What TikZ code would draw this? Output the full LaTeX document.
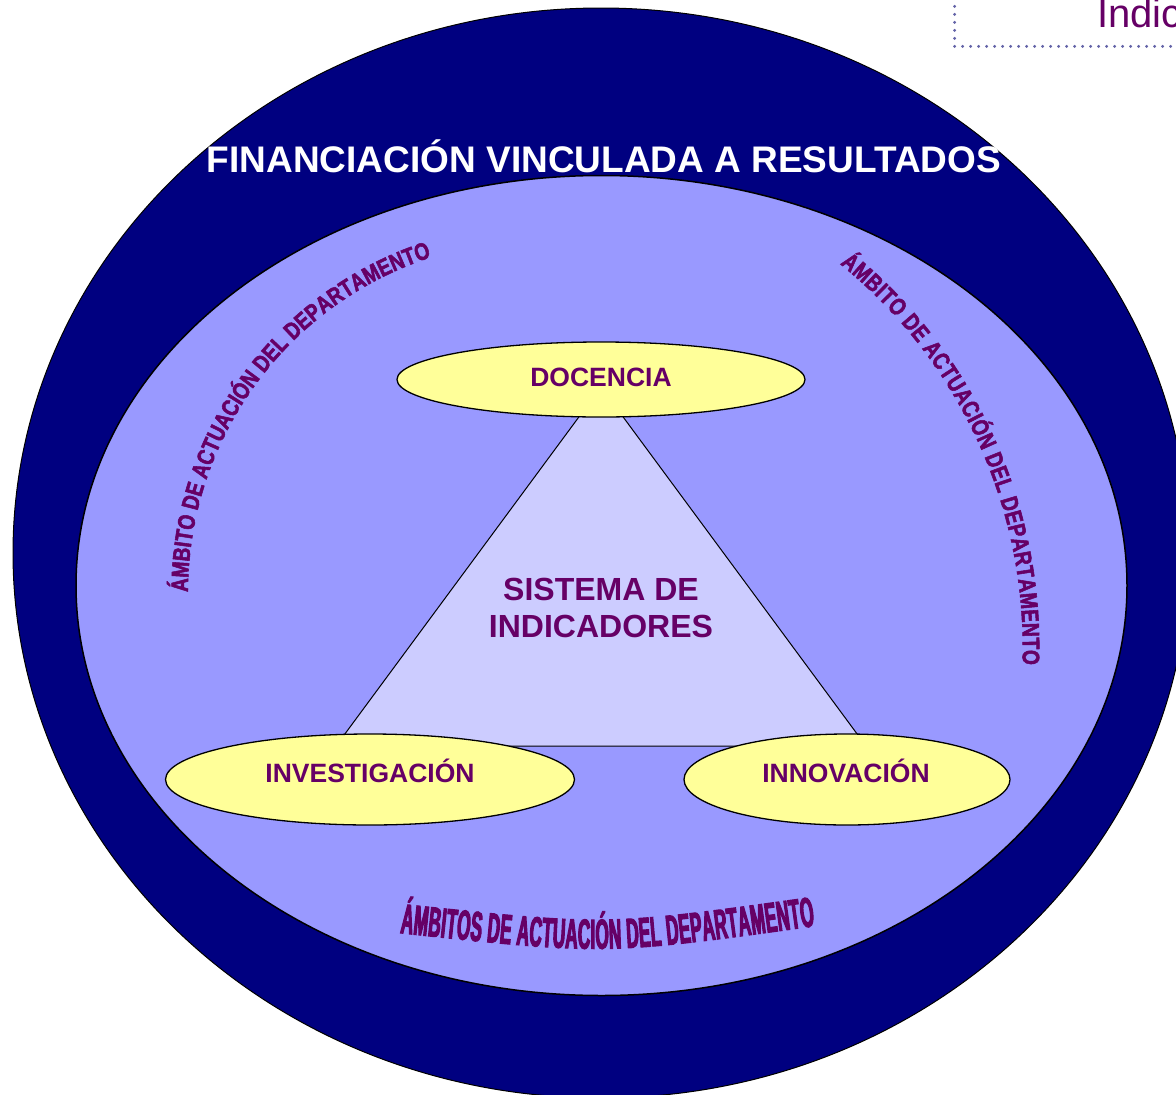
\documentclass[tikz,border=0pt]{standalone}
\usepackage{fontspec}
\setmainfont{Liberation Sans}
\newfontfamily\wafont[FakeStretch=0.8,FakeBold=2.2]{Liberation Sans Bold}
\newfontfamily\wbfont[FakeStretch=0.41,FakeBold=2.5]{Liberation Sans Bold}
\usetikzlibrary{shapes.geometric,decorations.text}
\definecolor{navy}{HTML}{000080}
\definecolor{lav}{HTML}{9999FF}
\definecolor{pale}{HTML}{CCCCFF}
\definecolor{yel}{HTML}{FFFF99}
\definecolor{purp}{HTML}{660066}
\definecolor{dotc}{HTML}{6464A8}
\begin{document}
\begin{tikzpicture}[x=1pt,y=1pt,
  lbl/.style={text=purp, font=\bfseries\fontsize{26.5}{30}\selectfont, inner sep=0pt},
  biglbl/.style={text=purp, font=\bfseries\fontsize{32}{37}\selectfont, inner sep=0pt},
  ovalnode/.style={ellipse, draw=black, line width=1.3pt, fill=yel, inner sep=0pt},
  arctext/.style={decorate, decoration={text along path, text color=purp, text align={fit to path}, text={#1}}},
]
\useasboundingbox (0,0) rectangle (1176,-1095);
\clip (0,0) rectangle (1176,-1095);
% outer and inner ellipses
\node[ellipse, fill=navy, draw=black, line width=1pt, minimum width=1176pt, minimum height=1090pt, inner sep=0pt] (outer) at (601,-553) {};
\node[ellipse, fill=lav, draw=black, line width=1.5pt, minimum width=1051pt, minimum height=820pt, inner sep=0pt] (inner) at (601.5,-585.5) {};
% title
\node[text=white, font=\bfseries\fontsize{37}{40}\selectfont, anchor=base, inner sep=0pt] (title) at (604,-172) {FINANCIACIÓN VINCULADA A RESULTADOS};
% triangle
\coordinate (ta) at (601,-387);
\coordinate (tb) at (336,-746);
\coordinate (tc) at (866,-746);
\draw[fill=pale, line width=1pt] (ta) -- (tb) -- (tc) -- cycle;
\node[biglbl, anchor=base] (sis1) at (601,-600.5) {SISTEMA DE};
\node[biglbl, anchor=base] (sis2) at (601,-637.5) {INDICADORES};
% ovals
\node[ovalnode, minimum width=408pt, minimum height=75pt] (doc) at (601,-379.5) {};
\node[ovalnode, minimum width=409pt, minimum height=91pt] (inv) at (370,-779.5) {};
\node[ovalnode, minimum width=326pt, minimum height=91pt] (inn) at (847,-779.5) {};
\node[lbl, anchor=base] (doct) at (601,-386) {DOCENCIA};
\node[lbl, anchor=base] (invt) at (370,-782) {INVESTIGACIÓN};
\node[lbl, anchor=base] (innt) at (846,-782) {INNOVACIÓN};
% curved texts
\path[arctext={|\wafont\fontsize{24}{24}\selectfont|ÁMBITO DE ACTUACIÓN DEL DEPARTAMENTO}]
  (188,-592) arc[start angle=180, end angle=108, radius=352pt];
\path[arctext={|\wafont\fontsize{24}{24}\selectfont|ÁMBITO DE ACTUACIÓN DEL DEPARTAMENTO}]
  (840,-264) arc[start angle=51, end angle=-2, radius=493pt];
\path[arctext={|\wbfont\fontsize{42}{44}\selectfont|ÁMBITOS DE ACTUACIÓN DEL DEPARTAMENTO}]
  (400,-933) .. controls (606,-955) .. (815,-926);
% top right box
\node[draw=dotc, line width=3.2pt, dash pattern=on 0pt off 8pt, line cap=round, minimum width=400pt, minimum height=120pt, anchor=south west, inner sep=0pt] (ibox) at (953,-48) {};
\node[text=purp, font=\fontsize{40}{44}\selectfont, anchor=base west, inner sep=0pt] (itext) at (1097,-27) {Indicadores};
\end{tikzpicture}
\end{document}
